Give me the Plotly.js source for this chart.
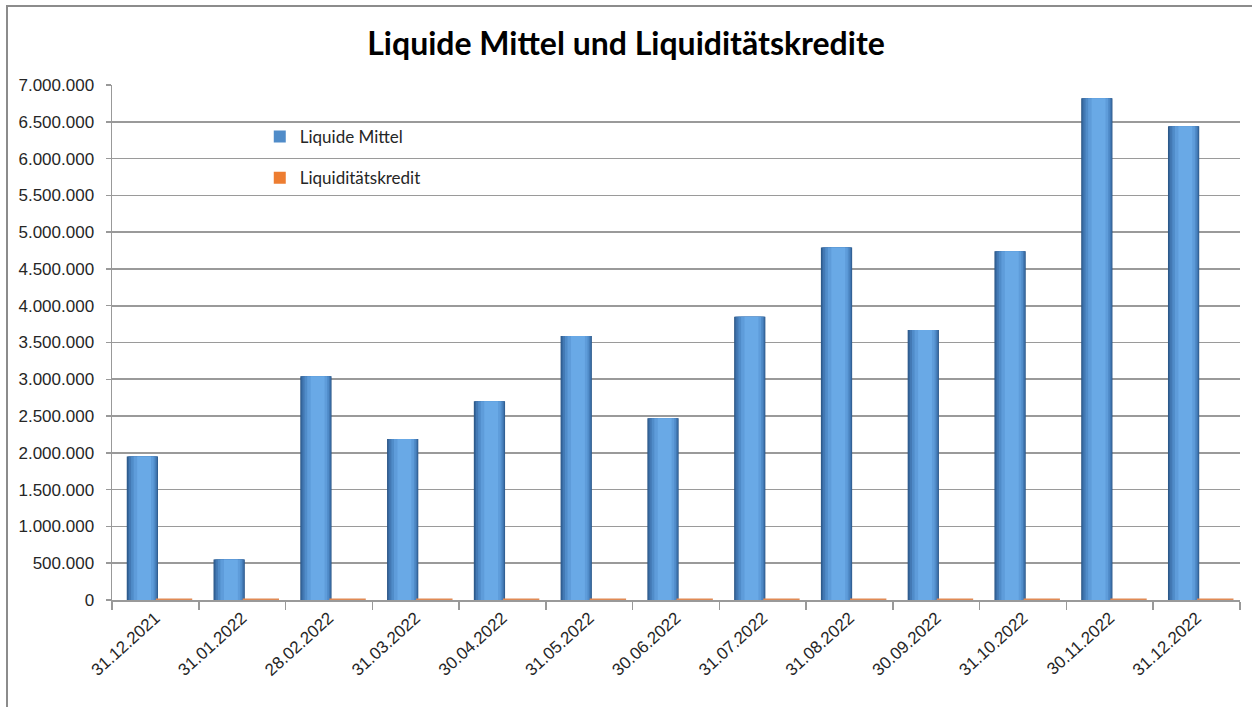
<!DOCTYPE html>
<html>
<head>
<meta charset="utf-8">
<script src="https://cdn.plot.ly/plotly-3.0.1.min.js"></script>
<style>
  html, body { margin: 0; padding: 0; background: #fff; overflow: hidden; }
  #wrap { position: relative; width: 1252px; height: 707px; overflow: hidden; }
  #chart { width: 1252px; height: 707px; }
  #frame { position: absolute; left: 6px; top: 5px; width: 1400px; height: 900px;
           border-left: 2px solid #8c8c8c; border-top: 2px solid #8c8c8c; pointer-events: none; }
</style>
</head>
<body>
<div id="wrap">
  <div id="chart"></div>
  <div id="frame"></div>
</div>
<script>
// ---- data ----
const categories = ["31.12.2021","31.01.2022","28.02.2022","31.03.2022","30.04.2022","31.05.2022",
                    "30.06.2022","31.07.2022","31.08.2022","30.09.2022","31.10.2022","30.11.2022","31.12.2022"];
const liquideMittel = [1950000, 550000, 3040000, 2190000, 2700000, 3590000,
                       2470000, 3850000, 4790000, 3670000, 4740000, 6820000, 6440000];
const liquiditaetskredit = [0, 0, 0, 0, 0, 0, 0, 0, 0, 0, 0, 0, 0];
const seriesNames = ["Liquide Mittel", "Liquiditätskredit"];
const chartTitle = "Liquide Mittel und Liquiditätskredite";

// ---- cylinder-like shading layers (left edge, right edge within category, colour) ----
const layers = [
  [-0.33, 0.03, "#2b5686"],
  [-0.32, 0.025, "#36679d"],
  [-0.305, 0.015, "#4379b4"],
  [-0.28, 0.0, "#508cc9"],
  [-0.25, -0.02, "#5e9cda"],
  [-0.21, -0.05, "#69a9e6"]
];

const traces = layers.map((l, i) => ({
  type: "bar",
  x: categories,
  y: liquideMittel,
  offset: l[0],
  width: l[1] - l[0],
  marker: { color: l[2], line: { width: 0 } },
  name: seriesNames[0],
  legendgroup: "a",
  showlegend: i === 3,
  hoverinfo: "skip"
}));

traces.push({
  type: "bar",
  x: categories,
  y: liquiditaetskredit,
  offset: 0.05,
  width: 0.32,
  marker: { color: "#ed7d31" },
  name: seriesNames[1],
  legendgroup: "b",
  showlegend: true,
  hoverinfo: "skip"
});

// flat marks for the zero-height credit bars
traces.push({
  type: "scatter",
  mode: "markers",
  xaxis: "x2",
  yaxis: "y",
  x: categories.map((c, i) => i + 0.215),
  y: liquiditaetskredit,
  marker: { symbol: "line-ew", size: 26, line: { width: 3, color: "#e08a55" } },
  cliponaxis: false,
  showlegend: false,
  hoverinfo: "skip"
});

const tickFamily = "Arial, Liberation Sans, sans-serif";
const textFamily = "Lato, Open Sans, sans-serif";

const layout = {
  width: 1252,
  height: 707,
  paper_bgcolor: "#ffffff",
  plot_bgcolor: "#ffffff",
  separators: ",.",
  barmode: "overlay",
  margin: { l: 112, r: 12, t: 85, b: 107 },
  title: {
    text: chartTitle,
    x: 0.5, xref: "container", xanchor: "center",
    y: 1 - 44 / 707, yref: "container", yanchor: "middle",
    font: { family: textFamily, size: 32, weight: 700, color: "#000000" }
  },
  xaxis: {
    type: "category",
    range: [-0.5, 12.5],
    tickson: "boundaries",
    ticks: "outside",
    ticklen: 8,
    tickcolor: "#999999",
    tickwidth: 1.5,
    showline: true,
    linecolor: "#999999",
    linewidth: 1.5,
    showgrid: false,
    tickangle: -42,
    tickfont: { family: tickFamily, size: 17, color: "#262626" },
    fixedrange: true
  },
  xaxis2: {
    overlaying: "x",
    range: [-0.5, 12.5],
    visible: false,
    fixedrange: true
  },
  yaxis: {
    range: [0, 7000000],
    dtick: 500000,
    tick0: 0,
    tickformat: ",d",
    ticks: "outside",
    ticklen: 5,
    tickcolor: "#999999",
    tickwidth: 1.5,
    ticklabelstandoff: 8,
    showline: true,
    linecolor: "#999999",
    linewidth: 1.5,
    showgrid: true,
    gridcolor: "#9a9a9a",
    gridwidth: 1.6,
    zeroline: false,
    tickfont: { family: tickFamily, size: 17, color: "#262626" },
    fixedrange: true
  },
  legend: {
    x: 0.131, y: 0.934, xanchor: "left", yanchor: "top",
    bgcolor: "rgba(0,0,0,0)",
    font: { family: textFamily, size: 17, color: "#262626" },
    tracegroupgap: 16,
    itemwidth: 30,
    traceorder: "grouped"
  },
  hovermode: false
};

Plotly.newPlot("chart", traces, layout, { staticPlot: true, displayModeBar: false });
</script>
</body>
</html>
